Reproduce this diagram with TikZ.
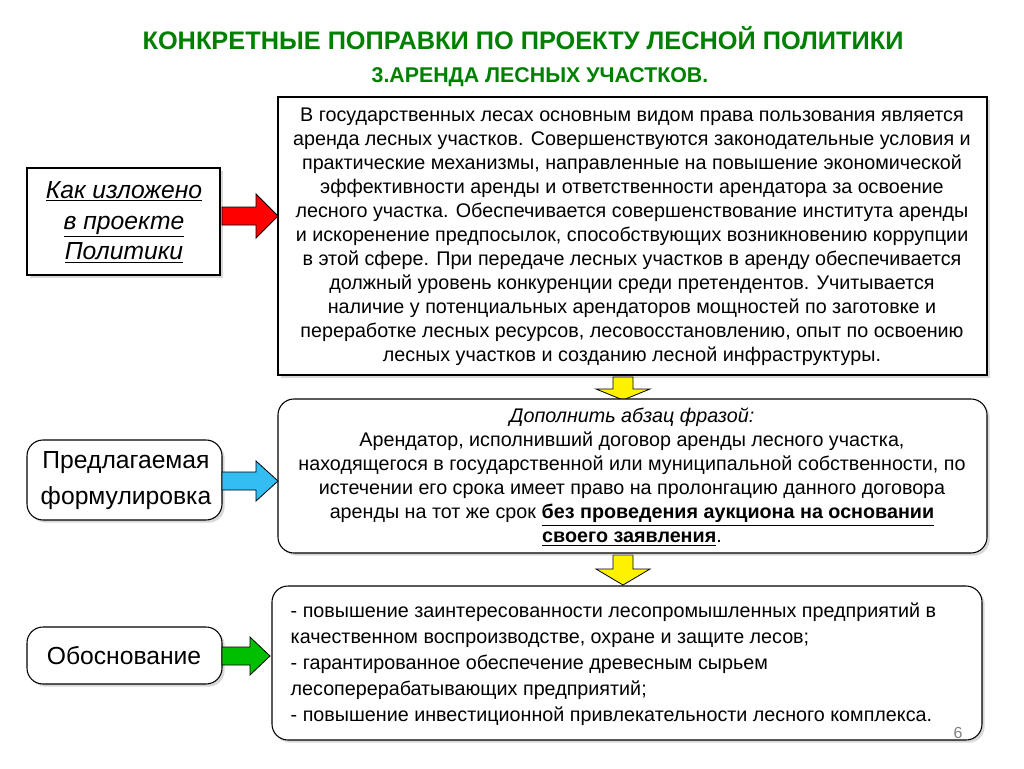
\documentclass[tikz,border=0pt]{standalone}
\usepackage{fontspec}
\setmainfont{Liberation Sans}
\usetikzlibrary{shadows}
\definecolor{tgreen}{RGB}{0,128,0}
\begin{document}
\begin{tikzpicture}[x=0.75pt,y=-0.75pt,
 box/.style={draw=black,line width=0.8pt,fill=white,drop shadow={shadow xshift=2pt,shadow yshift=-2pt,fill=gray!60}},
 rbox/.style={box,rounded corners=12pt},
 body/.style={font=\fontsize{14.8}{18}\selectfont,align=center},
 arr/.style={draw=black,line width=0.6pt}]
\useasboundingbox (0,0) rectangle (1024,768);
\node[text=tgreen,font=\bfseries\fontsize{19}{22}\selectfont] (t1) at (523,38) {КОНКРЕТНЫЕ ПОПРАВКИ ПО ПРОЕКТУ ЛЕСНОЙ ПОЛИТИКИ};
\node[text=tgreen,font=\bfseries\fontsize{16}{19}\selectfont] (t2) at (540,77) {3.АРЕНДА ЛЕСНЫХ УЧАСТКОВ.};
% box 1
\draw[box] (278,97) rectangle (987,375);
\node[body] (b1) at (632,237) {В государственных лесах основным видом права пользования является\\аренда лесных участков. Совершенствуются законодательные условия и\\практические механизмы, направленные на повышение экономической\\эффективности аренды и ответственности арендатора за освоение\\лесного участка. Обеспечивается совершенствование института аренды\\и искоренение предпосылок, способствующих возникновению коррупции\\в этой сфере. При передаче лесных участков в аренду обеспечивается\\должный уровень конкуренции среди претендентов. Учитывается\\наличие у потенциальных арендаторов мощностей по заготовке и\\переработке лесных ресурсов, лесовосстановлению, опыт по освоению\\лесных участков и созданию лесной инфраструктуры.};
\draw[box] (27,168) rectangle (220,275);
\node[font=\itshape\fontsize{18.5}{23}\selectfont,align=center] (l1) at (124,222) {\underline{Как изложено}\\\underline{в проекте}\\\underline{Политики}};
\draw[arr,fill=red] (222,207) -- (256,207) -- (256,194) -- (278,216) -- (256,238) -- (256,225) -- (222,225) -- cycle;
% down arrows
\draw[arr,fill=yellow] (613,377) -- (633,377) -- (633,389) -- (650,389) -- (623,400) -- (596,389) -- (613,389) -- cycle;
\draw[arr,fill=yellow] (613,555) -- (633,555) -- (633,569) -- (650,569) -- (623,585) -- (596,569) -- (613,569) -- cycle;
% box 2
\draw[rbox] (278,399) rectangle (987,553);
\node[body] (b2) at (632,477) {\textit{Дополнить абзац фразой:}\\Арендатор, исполнивший договор аренды лесного участка,\\находящегося в государственной или муниципальной собственности, по\\истечении его срока имеет право на пролонгацию данного договора\\аренды на тот же срок \textbf{\underline{без проведения аукциона на основании}}\\\textbf{\underline{своего заявления}}.};
\draw[rbox] (27,440) rectangle (222,520);
\node[font=\fontsize{18.5}{27}\selectfont,align=center] (l2) at (126,481) {Предлагаемая\\формулировка};
\draw[arr,fill=cyan!80!white] (222,472) -- (256,472) -- (256,461) -- (278,481) -- (256,501) -- (256,490) -- (222,490) -- cycle;
% box 3
\draw[rbox] (272,586) rectangle (982,740);
\node[font=\fontsize{14.8}{19.5}\selectfont,align=left,anchor=west] (b3) at (286,664) {- повышение заинтересованности лесопромышленных предприятий в\\качественном воспроизводстве, охране и защите лесов;\\- гарантированное обеспечение древесным сырьем\\лесоперерабатывающих предприятий;\\- повышение инвестиционной привлекательности лесного комплекса.};
\draw[rbox] (27,627) rectangle (222,684);
\node[font=\fontsize{18.5}{22}\selectfont] (l3) at (124,656) {Обоснование};
\draw[arr,fill=green!75!black] (222,647) -- (250,647) -- (250,637) -- (270,656) -- (250,675) -- (250,665) -- (222,665) -- cycle;
\node[text=gray,font=\fontsize{12}{14}\selectfont] (pg) at (958,733) {6};
\end{tikzpicture}
\end{document}
